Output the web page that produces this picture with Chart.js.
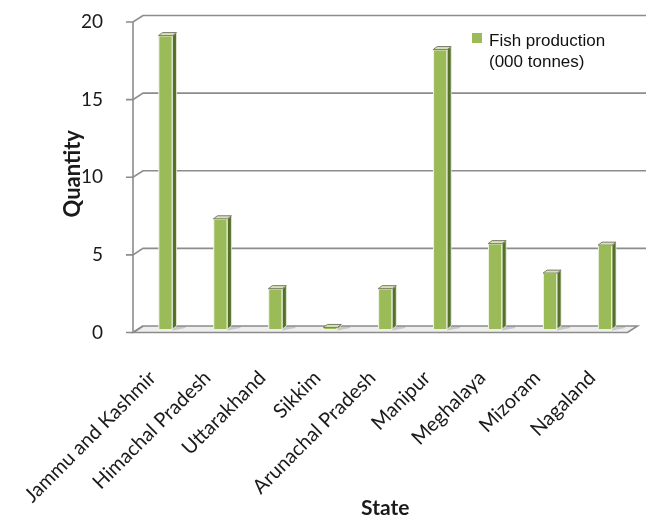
<!DOCTYPE html>
<html>
<head>
<meta charset="utf-8">
<script src="https://cdn.jsdelivr.net/npm/chart.js@4"></script>
<style>
  html, body { margin: 0; padding: 0; background: #ffffff; }
  #wrap { width: 652px; height: 523px; }
</style>
</head>
<body>
<div id="wrap"><canvas id="chart" width="652" height="523"></canvas></div>
<script>
// Inland fish production by hill state
const states = ['Jammu and Kashmir', 'Himachal Pradesh', 'Uttarakhand', 'Sikkim',
  'Arunachal Pradesh', 'Manipur', 'Meghalaya', 'Mizoram', 'Nagaland'];
const production = [18.9, 7.1, 2.6, 0.1, 2.6, 18.0, 5.5, 3.6, 5.4];
const yTicks = [0, 5, 10, 15, 20];
const legendLines = ['Fish production', '(000 tonnes)'];
const xTitle = 'State';
const yTitle = 'Quantity';

// pseudo-3D depth offsets relative to the bar plane
const FRONT = { dx: -5, dy: 3.5 };
const BACK = { dx: 5, dy: -3 };
const SIDE = { dx: 4, dy: -3 };

const GREEN = '#9bbb59';
const GREEN_SIDE = '#55702a';
const GREEN_TOP = '#d4e3b5';
const LINE = '#8c8c8c';

const wallsPlugin = {
  id: 'walls',
  beforeDatasetsDraw(chart) {
    const ctx = chart.ctx;
    const xs = chart.scales.x, ys = chart.scales.y;
    const y0 = ys.getPixelForValue(0);
    const L = xs.left, R = xs.right;
    ctx.save();
    // floor
    ctx.beginPath();
    ctx.moveTo(L + FRONT.dx, y0 + FRONT.dy);
    ctx.lineTo(R + FRONT.dx, y0 + FRONT.dy);
    ctx.lineTo(R + BACK.dx, y0 + BACK.dy);
    ctx.lineTo(L + BACK.dx, y0 + BACK.dy);
    ctx.closePath();
    ctx.fillStyle = '#eeeeee';
    ctx.fill();
    ctx.strokeStyle = LINE;
    ctx.lineWidth = 1.6;
    ctx.stroke();
    // back-wall gridlines with their stubs and diagonals
    yTicks.forEach(v => {
      const y = ys.getPixelForValue(v);
      ctx.beginPath();
      ctx.moveTo(L + FRONT.dx - 7, y + FRONT.dy);
      ctx.lineTo(L + FRONT.dx, y + FRONT.dy);
      ctx.lineTo(L + BACK.dx, y + BACK.dy);
      if (v > 0) ctx.lineTo(chart.width - 6, y + BACK.dy);
      ctx.stroke();
    });
    // front vertical axis
    ctx.beginPath();
    ctx.moveTo(L + FRONT.dx, y0 + FRONT.dy);
    ctx.lineTo(L + FRONT.dx, ys.getPixelForValue(yTicks[yTicks.length - 1]) + FRONT.dy);
    ctx.stroke();
    // soft floor shadows behind the bars
    const meta = chart.getDatasetMeta(0);
    ctx.fillStyle = 'rgba(110,110,110,0.3)';
    meta.data.forEach(el => {
      const xr = el.x + el.width / 2;
      ctx.beginPath();
      ctx.moveTo(xr, y0 + 1.5);
      ctx.lineTo(xr + 13, y0 - 1);
      ctx.lineTo(xr + 13, y0 - 2.5);
      ctx.lineTo(xr, y0 - 2.5);
      ctx.closePath();
      ctx.fill();
    });
    ctx.restore();
  },
  afterDatasetsDraw(chart) {
    const ctx = chart.ctx;
    const meta = chart.getDatasetMeta(0);
    ctx.save();
    meta.data.forEach(el => {
      const w = el.width, xl = el.x - w / 2, xr = el.x + w / 2;
      const top = el.y, base = el.base;
      // side face
      ctx.beginPath();
      ctx.moveTo(xr, top);
      ctx.lineTo(xr + SIDE.dx, top + SIDE.dy);
      ctx.lineTo(xr + SIDE.dx, base + SIDE.dy);
      ctx.lineTo(xr, base);
      ctx.closePath();
      ctx.fillStyle = GREEN_SIDE;
      ctx.fill();
      ctx.strokeStyle = '#e9f0da';
      ctx.lineWidth = 0.8;
      ctx.stroke();
      // top face
      ctx.beginPath();
      ctx.moveTo(xl, top);
      ctx.lineTo(xl + SIDE.dx, top + SIDE.dy);
      ctx.lineTo(xr + SIDE.dx, top + SIDE.dy);
      ctx.lineTo(xr, top);
      ctx.closePath();
      ctx.fillStyle = GREEN_TOP;
      ctx.fill();
      ctx.strokeStyle = '#7d7d6a';
      ctx.lineWidth = 1;
      ctx.stroke();
    });
    ctx.restore();
  },
  afterDraw(chart) {
    // legend entry
    const ctx = chart.ctx;
    ctx.save();
    ctx.fillStyle = GREEN;
    ctx.fillRect(472, 33, 10, 10);
    ctx.fillStyle = '#111111';
    ctx.font = '17px "Liberation Sans", Arial, sans-serif';
    ctx.textBaseline = 'alphabetic';
    ctx.fillText(legendLines[0], 489, 46);
    ctx.fillText(legendLines[1], 489, 67);
    ctx.restore();
  }
};

new Chart(document.getElementById('chart'), {
  type: 'bar',
  data: {
    labels: states,
    datasets: [{
      label: legendLines.join(' '),
      data: production,
      backgroundColor: GREEN,
      borderColor: '#edf3e0',
      borderWidth: 1.2,
      barThickness: 14
    }]
  },
  options: {
    responsive: false,
    animation: false,
    layout: { padding: { left: 60, top: 18.5, right: 18, bottom: 0 } },
    plugins: { legend: { display: false }, tooltip: { enabled: false } },
    scales: {
      x: {
        grid: { display: false },
        border: { display: false },
        ticks: {
          minRotation: 45, maxRotation: 45, autoSkip: false,
          font: { family: 'Lato', size: 20 }, color: '#1a1a1a', padding: 29, labelOffset: -13
        },
        title: {
          display: true, text: xTitle, color: '#1a1a1a',
          font: { family: 'Lato', size: 21, weight: 'bold' },
          padding: { top: 0, bottom: 2 }
        },
        afterFit(s) { s.height = 194; }
      },
      y: {
        min: yTicks[0], max: yTicks[yTicks.length - 1],
        grid: { display: false },
        border: { display: false },
        afterBuildTicks(s) { s.ticks = yTicks.map(v => ({ value: v })); },
        ticks: {
          font: { family: 'Lato', size: 19 }, color: '#1a1a1a',
          padding: 27, labelOffset: FRONT.dy
        },
        title: {
          display: true, text: yTitle, color: '#1a1a1a',
          font: { family: 'Lato', size: 22, weight: 'bold' },
          padding: 0
        },
        afterFit(s) { s.width = 78; s.paddingTop = 0; s.paddingBottom = 0; }
      }
    }
  },
  plugins: [wallsPlugin]
});
</script>
</body>
</html>
